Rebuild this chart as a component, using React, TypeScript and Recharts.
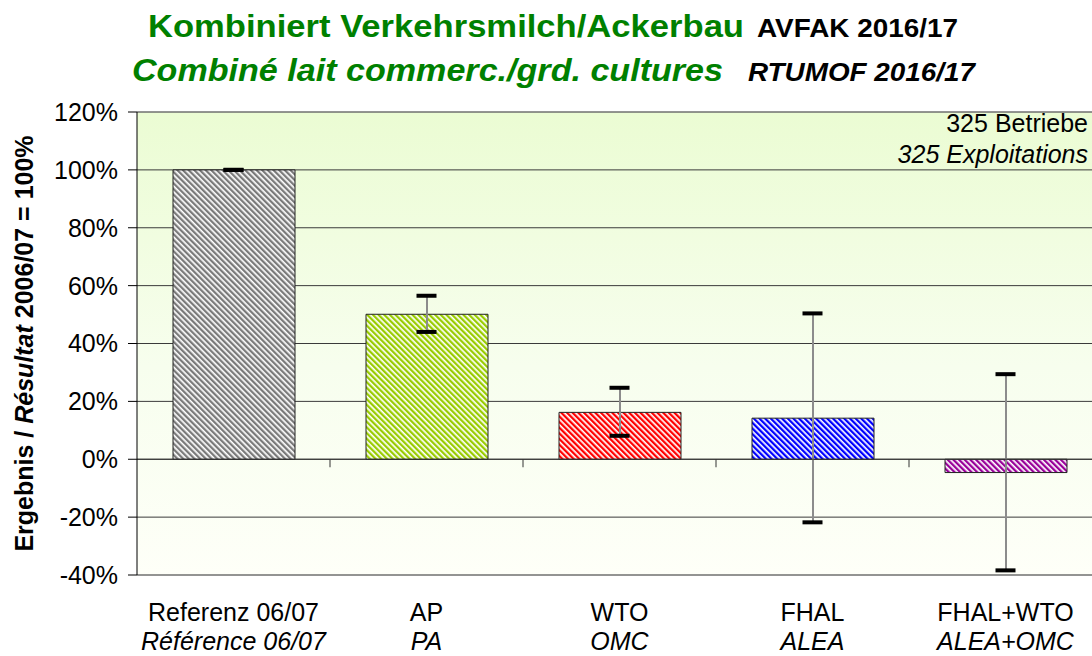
import React from 'react';
import { ComposedChart, Bar, Cell, ErrorBar, Scatter, XAxis, YAxis, CartesianGrid, ReferenceLine } from 'recharts';

const categoriesDe = ['Referenz 06/07', 'AP', 'WTO', 'FHAL', 'FHAL+WTO'];
const categoriesFr = ['Référence 06/07', 'PA', 'OMC', 'ALEA', 'ALEA+OMC'];
const values = [100, 50.1, 16.2, 14.2, -4.6];
const upper = [100, 56.5, 24.7, 50.4, 29.4];
const lower = [100, 44.0, 8.1, -21.8, -38.4];
const yTicks = [-40, -20, 0, 20, 40, 60, 80, 100, 120];
const barColors = ['#7a7a7a', '#99cc00', '#ff0000', '#0000ff', '#990099'];

const FONT = '"Liberation Sans", Arial, sans-serif';

const chartData = categoriesDe.map((name, i) => ({
  name,
  value: values[i],
  hi: upper[i],
  lo: lower[i],
  err: [values[i] - lower[i], upper[i] - values[i]],
}));

const CategoryTick = (props: any) => {
  const { x, y, payload, index } = props;
  return (
    <g fontFamily={FONT} fontSize={25} fill="#000">
      <text x={x} y={y + 46} textAnchor="middle">{payload.value}</text>
      <text x={x} y={y + 75} textAnchor="middle" fontStyle="italic">{categoriesFr[index]}</text>
    </g>
  );
};

// zero line with the small category separator ticks hanging below it
const ZeroLine = (props: any) => {
  const { x1, y1, x2, y2 } = props;
  const step = (x2 - x1) / categoriesDe.length;
  return (
    <g>
      <line x1={x1} y1={y1} x2={x2} y2={y2} stroke="#333" strokeWidth={1} />
      {categoriesDe.slice(1).map((_, i) => (
        <line key={i} x1={x1 + step * (i + 1)} x2={x1 + step * (i + 1)} y1={y1} y2={y1 + 8} stroke="#333" strokeWidth={1} />
      ))}
    </g>
  );
};

const Cap = (props: any) => {
  const { cx, cy } = props;
  if (cx == null || cy == null) return <g />;
  return <rect x={cx - 10} y={cy - 2} width={20} height={4} fill="#000" />;
};

const YTitle = (props: any) => {
  const vb = props.viewBox || { x: 0, y: 0, width: 0, height: 0 };
  const tx = vb.x + 33;
  const ty = vb.y + vb.height / 2;
  return (
    <text
      x={tx}
      y={ty}
      transform={`rotate(-90, ${tx}, ${ty})`}
      textAnchor="middle"
      fontFamily={FONT}
      fontSize={25}
      fontWeight="bold"
      fill="#000"
    >
      Ergebnis / <tspan fontStyle="italic">Résultat</tspan> 2006/07 = 100%
    </text>
  );
};

export default function App() {
  return (
    <div style={{ position: 'absolute', left: 0, top: 0, width: 1092, height: 656, overflow: 'hidden', background: '#fff' }}>
      <ComposedChart
        width={1110}
        height={656}
        data={chartData}
        margin={{ top: 112, right: 8, bottom: 0, left: 0 }}
      >
        <defs>
          <linearGradient id="plotBg" x1="0" y1="0" x2="0" y2="1">
            <stop offset="0%" stopColor="#ebfcd3" />
            <stop offset="55%" stopColor="#f7feee" />
            <stop offset="100%" stopColor="#fefff8" />
          </linearGradient>
          {barColors.map((c, i) => (
            <pattern key={i} id={`hatch${i}`} patternUnits="userSpaceOnUse" width={4} height={4} patternTransform="rotate(-45)">
              <rect width={4} height={4} fill="#fff" />
              <rect width={2.3} height={4} fill={c} />
            </pattern>
          ))}
        </defs>
        <CartesianGrid vertical={false} stroke="#3a3a3a" fill="url(#plotBg)" fillOpacity={1} />
        <XAxis
          dataKey="name"
          height={81}
          axisLine={false}
          tickLine={false}
          tickSize={0}
          tickMargin={0}
          interval={0}
          tick={<CategoryTick />}
        />
        <YAxis
          width={137}
          domain={[-40, 120]}
          ticks={yTicks}
          interval={0}
          tickFormatter={(v: number) => `${v}%`}
          tick={{ fontFamily: FONT, fontSize: 25, fill: '#000' }}
          tickSize={9}
          tickMargin={10}
          axisLine={{ stroke: '#000', strokeWidth: 1 }}
          tickLine={{ stroke: '#000' }}
          label={<YTitle />}
        />
        <ReferenceLine y={120} stroke="#8a8a8a" />
        <ReferenceLine y={-40} stroke="#8a8a8a" />
        <Bar dataKey="value" barSize={122} stroke="#222" strokeWidth={1} isAnimationActive={false}>
          {chartData.map((_, i) => (
            <Cell key={i} fill={`url(#hatch${i})`} />
          ))}
          <ErrorBar dataKey="err" width={0} stroke="#8c8c8c" strokeWidth={2} />
        </Bar>
        <ReferenceLine y={0} shape={<ZeroLine />} />
        <Scatter dataKey="hi" shape={<Cap />} isAnimationActive={false} />
        <Scatter dataKey="lo" shape={<Cap />} isAnimationActive={false} />
      </ComposedChart>
      <svg width={1092} height={656} style={{ position: 'absolute', left: 0, top: 0, pointerEvents: 'none' }}>
        <g fontFamily={FONT} fontWeight="bold">
          <text x={148} y={37} fontSize={32} fill="#008000" textLength={596} lengthAdjust="spacingAndGlyphs">Kombiniert Verkehrsmilch/Ackerbau</text>
          <text x={757} y={37} fontSize={25} fill="#000" textLength={201} lengthAdjust="spacingAndGlyphs">AVFAK 2016/17</text>
          <text x={132} y={81} fontSize={32} fill="#008000" fontStyle="italic" textLength={591} lengthAdjust="spacingAndGlyphs">Combiné lait commerc./grd. cultures</text>
          <text x={748} y={81} fontSize={26} fill="#000" fontStyle="italic" textLength={227} lengthAdjust="spacingAndGlyphs">RTUMOF 2016/17</text>
        </g>
        <g fontFamily={FONT} fontSize={25} fill="#000" textAnchor="end">
          <text x={1088} y={132}>325 Betriebe</text>
          <text x={1088} y={163} fontStyle="italic">325 Exploitations</text>
        </g>
      </svg>
    </div>
  );
}
